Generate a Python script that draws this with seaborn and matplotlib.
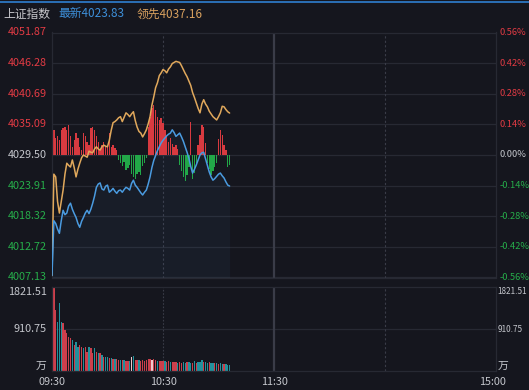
import numpy as np
import pandas as pd
import matplotlib
matplotlib.use("Agg")
import matplotlib.pyplot as plt
from matplotlib.lines import Line2D
import seaborn as sns

# ---------------- data ----------------
minutes = list(range(97))  # minutes since 09:30 (lunch break removed)

latest = [4007.5, 4017.5, 4017.0, 4016.0, 4015.2, 4017.5, 4019.4, 4018.6, 4018.9, 4020.2,
          4020.7, 4019.6, 4018.8, 4018.1, 4017.0, 4016.3, 4017.4, 4018.1, 4018.9, 4019.4,
          4018.8, 4019.6, 4020.7, 4022.0, 4023.6, 4024.2, 4024.4, 4023.3, 4023.1, 4023.8,
          4024.0, 4022.7, 4023.0, 4023.4, 4022.9, 4022.5, 4023.0, 4023.1, 4022.7, 4023.2,
          4023.6, 4023.4, 4023.1, 4024.3, 4024.9, 4024.0, 4023.6, 4023.1, 4022.6, 4022.2,
          4022.7, 4023.1, 4024.2, 4025.5, 4027.2, 4028.5, 4029.4, 4030.3, 4031.0, 4031.7,
          4032.2, 4032.6, 4033.0, 4033.3, 4033.5, 4034.1, 4033.6, 4032.9, 4033.2, 4033.5,
          4032.8, 4032.0, 4031.0, 4030.0, 4028.9, 4027.4, 4026.2, 4026.9, 4027.7, 4028.6,
          4029.5, 4029.9, 4030.0, 4028.8, 4027.6, 4026.4, 4025.5, 4024.9, 4025.2, 4025.6,
          4026.0, 4026.2, 4025.7, 4025.3, 4024.6, 4024.0, 4023.83]

leading = [4007.5, 4026.0, 4025.5, 4021.0, 4018.9, 4021.0, 4023.1, 4026.0, 4028.0, 4027.6,
           4027.3, 4028.6, 4027.2, 4025.5, 4026.9, 4028.0, 4029.0, 4029.5, 4029.3, 4029.1,
           4030.2, 4030.0, 4029.9, 4030.6, 4031.0, 4030.6, 4030.4, 4031.0, 4031.3, 4031.1,
           4031.0, 4032.2, 4034.0, 4035.4, 4035.6, 4035.9, 4036.3, 4036.5, 4035.6, 4036.4,
           4037.2, 4036.9, 4036.5, 4037.0, 4037.4, 4035.8, 4034.6, 4033.8, 4033.5, 4032.8,
           4033.4, 4034.1, 4035.2, 4036.5, 4038.6, 4040.1, 4041.8, 4042.7, 4044.0, 4044.5,
           4045.1, 4044.9, 4044.5, 4045.2, 4045.6, 4046.2, 4046.4, 4046.6, 4046.5, 4046.4,
           4045.8, 4045.1, 4044.4, 4043.8, 4043.0, 4042.2, 4040.9, 4040.0, 4039.0, 4038.0,
           4037.2, 4038.8, 4039.6, 4038.8, 4038.3, 4037.5, 4037.0, 4036.5, 4036.2, 4035.9,
           4036.5, 4037.2, 4038.4, 4038.3, 4037.8, 4037.4, 4037.16]

# red/green strength bars, in index points around the previous close
strength = [4.9, 4.6, 3.1, 3.4, 2.8, 4.6, 4.9, 5.2, 4.6, 5.5, 3.4, 1.5, 2.8, 4.0, 3.1, 1.5,
            0.9, 4.0, 3.4, 2.4, 1.8, 4.9, 5.2, 4.6, 3.4, 2.4, 0.9, 1.8, 2.4, 1.5, 1.8, 4.0,
            1.5, 1.8, 1.2, 0.9,
            -0.9, -1.5, -2.1, -1.2, -2.8, -2.4, -1.8, -3.4, -4.0, -4.3, -3.4, -3.1, -3.7, -2.1,
            -1.5, -0.6,
            5.1, 7.0, 8.6, 9.2, 8.3, 7.0, 6.4, 6.7, 5.8, 4.6, 3.4, 2.4, 3.1, 2.1, 1.5, 1.8, 1.1,
            -1.8, -2.9, -4.0, -4.8, -3.7, -2.2, 6.1, -4.4, -3.3, -1.5,
            1.8, 3.7, 5.5, 5.1, 2.2, -1.5, -2.6, -3.7, -2.9, -2.2, -1.5,
            2.9, 4.6, 3.7, 1.8, 0.9, -2.2, -1.8]

volume = [636, 1816, 1324, 1070, 1482, 1070, 1035, 890, 818, 744,
          709, 673, 564, 636, 527, 564, 527, 492, 527, 419,
          527, 492, 383, 492, 419, 383, 383, 347, 311, 311,
          311, 275, 275, 260, 260, 250, 240, 240, 230, 230,
          220, 210, 220, 311, 320, 240, 230, 230, 220, 240,
          220, 230, 250, 260, 240, 250, 230, 220, 220, 210,
          220, 210, 200, 210, 200, 190, 200, 190, 180, 190,
          180, 190, 180, 190, 200, 180, 170, 220, 180, 190,
          200, 240, 200, 190, 180, 190, 180, 170, 180, 170,
          160, 170, 160, 150, 160, 140, 130]
vol_dir = (["auction", "up", "up", "down", "down", "down", "up", "up", "up", "up",
            "up", "down", "up", "down", "down", "up", "up", "down", "up", "up",
            "down", "up", "up", "down", "up", "down", "up", "down", "up", "down",
            "down", "up", "down", "up", "down", "up", "up", "down", "up", "down",
            "up", "up", "down", "auction", "down", "up", "up", "down", "up", "up",
            "up", "up", "up", "up", "auction", "up", "up", "down", "up", "up",
            "up", "down", "up", "up", "down", "up", "up", "up", "down", "up",
            "up", "down", "down", "up", "down", "down", "up", "down", "up", "down",
            "down", "down", "up", "down", "down", "up", "down", "down", "up", "down",
            "up", "down", "down", "up", "down", "down", "down"])

prev_close = 4029.50
price_ticks = [4051.87, 4046.28, 4040.69, 4035.09, 4029.50, 4023.91, 4018.32, 4012.72, 4007.13]
pct_labels = ["0.56%", "0.42%", "0.28%", "0.14%", "0.00%", "-0.14%", "-0.28%", "-0.42%", "-0.56%"]
vol_ticks = [1821.51, 910.75]
time_labels = ["09:30", "10:30", "11:30", "15:00"]
time_pos = [0, 60, 120, 240]
header = ["上证指数", "最新4023.83", "领先4037.16"]

# ---------------- style ----------------
sns.set_theme(style="dark")
plt.rcParams["font.family"] = ["Noto Sans CJK SC", "DejaVu Sans"]

BG = "#15161e"
GRID = "#272933"
VLINE = "#3a3c48"
RED = "#d83a40"
GREEN = "#22a748"
RED_T = "#e23b44"
GREEN_T = "#26ad4a"
GRAY = "#c4c6cc"
BLUE = "#4a9be0"
ORANGE = "#e0a85c"
VRED = "#cc3f4c"
VTEAL = "#22919c"
VAUC = "#f0c9cd"

W, H = 529, 390
fig = plt.figure(figsize=(W / 100, H / 100), dpi=100, facecolor=BG)


def rect(l, t, r, b):
    return [l / W, 1 - b / H, (r - l) / W, (b - t) / H]


# top accent line and header
fig.add_artist(Line2D([0, 1], [1 - 2 / H, 1 - 2 / H], color="#2f7fd0", lw=1.2))
hx = [3, 58, 137]
hc = ["#c8c8cc", "#3d8fd9", "#d9a15e"]
for t, x, c in zip(header, hx, hc):
    fig.text(x / W, 1 - 14 / H, t, color=c, fontsize=8.5, ha="left", va="center")

# ---------------- price panel ----------------
ax = fig.add_axes(rect(52, 32.5, 496, 277.5))
ax.set_facecolor(BG)
ax.set_xlim(0, 240)
ax.set_ylim(price_ticks[-1], price_ticks[0])

for lv in price_ticks:
    ax.axhline(lv, color=GRID, lw=0.9, zorder=0)
for tp, ls, lw in [(60, (0, (2, 2)), 0.8), (120, "-", 1.6), (180, (0, (2, 2)), 0.8)]:
    ax.axvline(tp, color=VLINE, lw=lw, ls=ls, zorder=0)

ax.fill_between(minutes, latest, price_ticks[-1], color="#4a7fb5", alpha=0.07, lw=0, zorder=1)

bar_cols = [RED if v >= 0 else GREEN for v in strength]
ax.bar(minutes, strength, bottom=prev_close, width=0.75, color=bar_cols, lw=0, zorder=2)

sns.lineplot(x=minutes, y=leading, ax=ax, color=ORANGE, lw=1.1, zorder=4)
sns.lineplot(x=minutes, y=latest, ax=ax, color=BLUE, lw=1.1, zorder=5)

ax.set_xticks([])
ax.set_yticks([])
ax.set_xlabel("")
ax.set_ylabel("")
for s in ax.spines.values():
    s.set_color(GRID)
    s.set_linewidth(0.9)

tr = ax.get_yaxis_transform()
for lv, pl in zip(price_ticks, pct_labels):
    c = RED_T if lv > prev_close + 0.01 else (GREEN_T if lv < prev_close - 0.01 else GRAY)
    ax.text(-0.012, lv, f"{lv:.2f}", transform=tr, ha="right", va="center",
            color=c, fontsize=7.8, clip_on=False)
    ax.text(1.007, lv, pl, transform=tr, ha="left", va="center",
            color=c, fontsize=6.7, clip_on=False)

# ---------------- volume panel ----------------
axv = fig.add_axes(rect(52, 287, 496, 371))
axv.set_facecolor(BG)
vcol = {"up": VRED, "down": VTEAL, "auction": VAUC}
axv.bar(minutes, volume, width=0.75, color=[vcol[d] for d in vol_dir], lw=0, zorder=2)
axv.set_xlim(0, 240)
axv.set_ylim(0, vol_ticks[0])
axv.axhline(vol_ticks[1], color=GRID, lw=0.9, zorder=0)
for tp, ls, lw in [(60, (0, (1.5, 1.5)), 0.8), (120, "-", 1.6), (180, (0, (2, 2)), 0.8)]:
    axv.axvline(tp, color=VLINE, lw=lw, ls=ls, zorder=0)
axv.set_xticks([])
axv.set_yticks([])
axv.set_xlabel("")
axv.set_ylabel("")
for s in axv.spines.values():
    s.set_color(GRID)
    s.set_linewidth(0.9)

trv = axv.get_yaxis_transform()
for xa, ha, fs in [(-0.012, "right", 7.8), (1.004, "left", 5.9)]:
    axv.text(xa, vol_ticks[0], f"{vol_ticks[0]:.2f}", transform=trv, ha=ha, va="top",
             color=GRAY, fontsize=fs, clip_on=False)
    axv.text(xa, vol_ticks[1], f"{vol_ticks[1]:.2f}", transform=trv, ha=ha, va="center",
             color=GRAY, fontsize=fs, clip_on=False)
    axv.text(xa, 0, "万", transform=trv, ha=ha, va="bottom",
             color=GRAY, fontsize=7.8, clip_on=False)

trx = axv.get_xaxis_transform()
for lab, tp in zip(time_labels, time_pos):
    xx = tp - 2 if tp == 240 else tp
    axv.text(xx, -0.13, lab, transform=trx, ha="center", va="center",
             color=GRAY, fontsize=7.8, clip_on=False)

fig.savefig("out.png", dpi=100, facecolor=BG)
